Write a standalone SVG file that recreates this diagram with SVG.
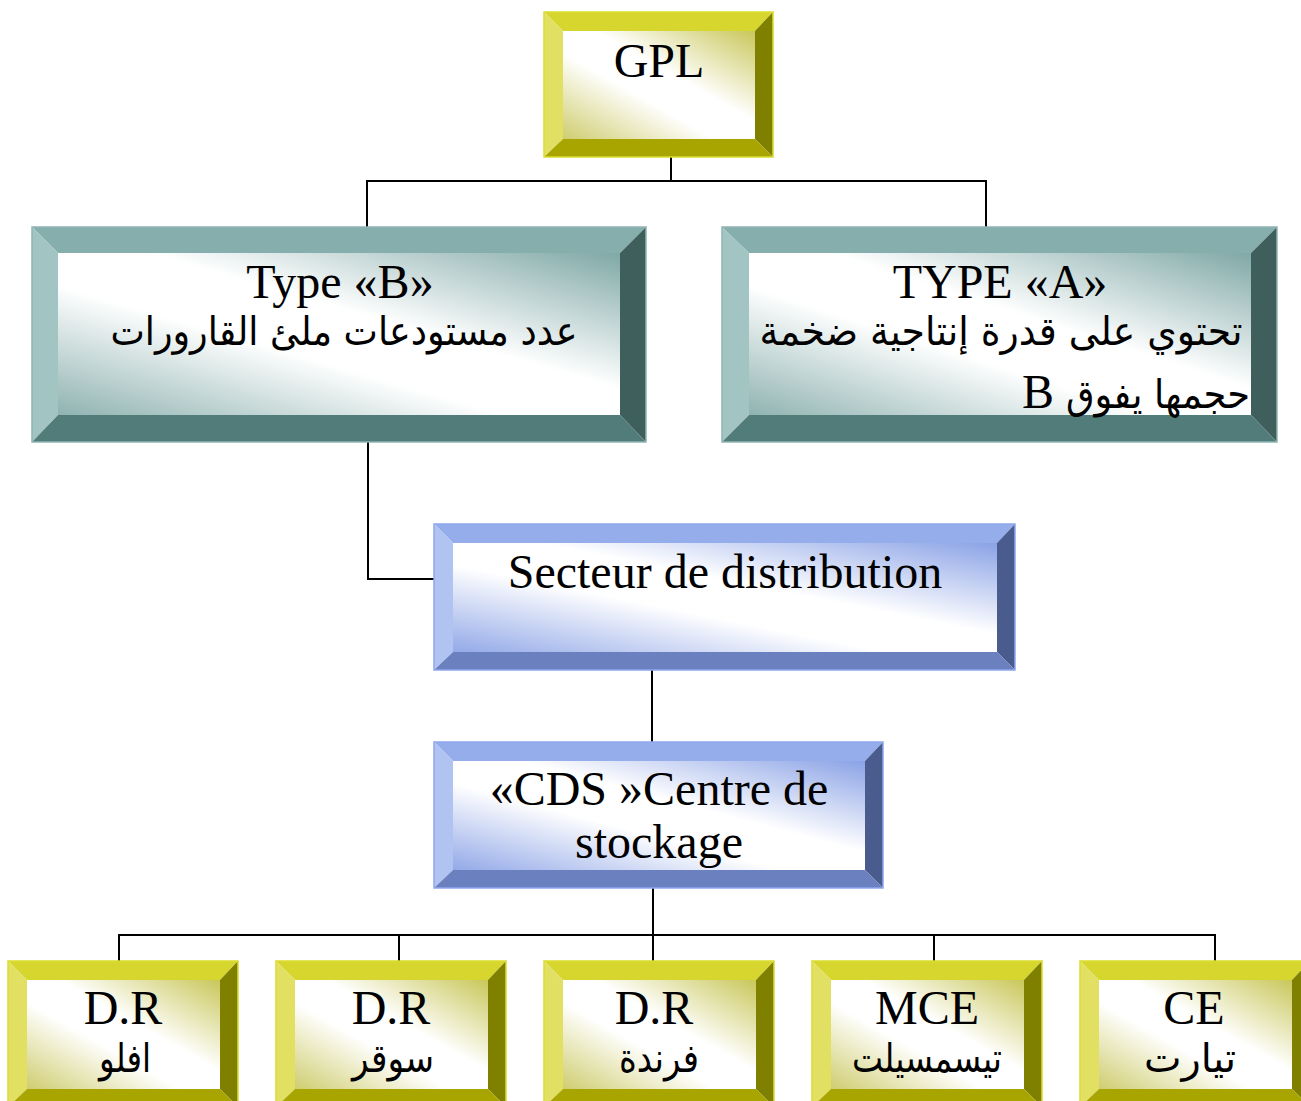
<svg xmlns="http://www.w3.org/2000/svg" width="1301" height="1101" viewBox="0 0 1301 1101">
<defs>
<linearGradient id="gy" x1="1" y1="0" x2="0" y2="1"><stop offset="0" stop-color="#c9c75a"/><stop offset="0.42" stop-color="#ffffff"/><stop offset="0.6" stop-color="#ffffff"/><stop offset="1" stop-color="#cfcd70"/></linearGradient>
<linearGradient id="gt" x1="1" y1="0" x2="0" y2="1"><stop offset="0" stop-color="#7fa8a6"/><stop offset="0.42" stop-color="#ffffff"/><stop offset="0.6" stop-color="#ffffff"/><stop offset="1" stop-color="#8fb3b1"/></linearGradient>
<linearGradient id="gb" x1="1" y1="0" x2="0" y2="1"><stop offset="0" stop-color="#8aa2e6"/><stop offset="0.42" stop-color="#ffffff"/><stop offset="0.6" stop-color="#ffffff"/><stop offset="1" stop-color="#93a9e8"/></linearGradient>
<style>
.yt{fill:#d7d62f}.yl{fill:#e1e062}.yr{fill:#7f7f00}.yb{fill:#a9a500}.yi{fill:url(#gy)}.yo{fill:none;stroke:#dcdc30;stroke-width:1.5}
.tt{fill:#86aead}.tl{fill:#a2c4c2}.tr{fill:#3f5f5d}.tb{fill:#527c7a}.ti{fill:url(#gt)}.to{fill:none;stroke:#8fb5b3;stroke-width:1.5}
.bt{fill:#95adea}.bl{fill:#b0c3f1}.br{fill:#4a5c8e}.bb{fill:#6a80bf}.bi{fill:url(#gb)}.bo{fill:none;stroke:#8ea7ee;stroke-width:1.5}
.lat{font-family:"Liberation Serif","Times New Roman",serif;font-size:48px;fill:#000;text-anchor:middle}
.ar{font-family:"DejaVu Sans","Noto Sans",sans-serif;font-size:40px;fill:#000;text-anchor:middle}
.cn{fill:none;stroke:#000;stroke-width:2}
</style>
</defs>
<rect width="1301" height="1101" fill="#fff"/>
<g id="connectors">
<polyline class="cn" points="671,157 671,181"/>
<polyline class="cn" points="367,227 367,181 986,181 986,227"/>
<polyline class="cn" points="368,442 368,579 434,579"/>
<polyline class="cn" points="652,670 652,742"/>
<polyline class="cn" points="653,888 653,961"/>
<polyline class="cn" points="119,961 119,935 1215,935 1215,961"/>
<polyline class="cn" points="399,935 399,961"/>
<polyline class="cn" points="934,935 934,961"/>
</g>
<g id="gpl">
<rect class="yi" x="563" y="31" width="192" height="108"/>
<polygon class="yt" points="544,12 773,12 755,31 563,31"/>
<polygon class="yl" points="544,12 563,31 563,139 544,157"/>
<polygon class="yr" points="773,12 773,157 755,139 755,31"/>
<polygon class="yb" points="544,157 563,139 755,139 773,157"/>
<rect class="yo" x="544" y="12" width="229" height="145"/>
<text class="lat" x="659" y="77">GPL</text>
</g>
<g id="typeB">
<rect class="ti" x="58" y="253" width="562" height="162"/>
<polygon class="tt" points="32,227 646,227 620,253 58,253"/>
<polygon class="tl" points="32,227 58,253 58,415 32,442"/>
<polygon class="tr" points="646,227 646,442 620,415 620,253"/>
<polygon class="tb" points="32,442 58,415 620,415 646,442"/>
<rect class="to" x="32" y="227" width="614" height="215"/>
<text class="lat" x="340" y="298">Type «B»</text>
<text class="ar" x="344" y="345" direction="rtl" textLength="467" lengthAdjust="spacingAndGlyphs">عدد مستودعات ملئ القارورات</text>
</g>
<g id="typeA">
<rect class="ti" x="749" y="253" width="502" height="162"/>
<polygon class="tt" points="722,227 1277,227 1251,253 749,253"/>
<polygon class="tl" points="722,227 749,253 749,415 722,442"/>
<polygon class="tr" points="1277,227 1277,442 1251,415 1251,253"/>
<polygon class="tb" points="722,442 749,415 1251,415 1277,442"/>
<rect class="to" x="722" y="227" width="555" height="215"/>
<text class="lat" x="1000" y="298">TYPE «A»</text>
<text class="ar" x="1001" y="345" direction="rtl" textLength="483" lengthAdjust="spacingAndGlyphs">تحتوي على قدرة إنتاجية ضخمة</text>
<text class="ar" x="1250" y="408" direction="rtl" style="text-anchor:start" textLength="184" lengthAdjust="spacingAndGlyphs">حجمها يفوق</text>
<text class="lat" x="1022" y="408" style="text-anchor:start">B</text>
</g>
<g id="secteur">
<rect class="bi" x="453" y="543" width="544" height="109"/>
<polygon class="bt" points="434,524 1015,524 997,543 453,543"/>
<polygon class="bl" points="434,524 453,543 453,652 434,670"/>
<polygon class="br" points="1015,524 1015,670 997,652 997,543"/>
<polygon class="bb" points="434,670 453,652 997,652 1015,670"/>
<rect class="bo" x="434" y="524" width="581" height="146"/>
<text class="lat" x="725" y="588">Secteur de distribution</text>
</g>
<g id="cds">
<rect class="bi" x="453" y="761" width="412" height="109"/>
<polygon class="bt" points="434,742 883,742 865,761 453,761"/>
<polygon class="bl" points="434,742 453,761 453,870 434,888"/>
<polygon class="br" points="883,742 883,888 865,870 865,761"/>
<polygon class="bb" points="434,888 453,870 865,870 883,888"/>
<rect class="bo" x="434" y="742" width="449" height="146"/>
<text class="lat" x="659" y="805">«CDS »Centre de</text>
<text class="lat" x="659" y="858">stockage</text>
</g>
<g id="dr1">
<rect class="yi" x="27" y="980" width="193" height="109"/>
<polygon class="yt" points="8,961 238,961 220,980 27,980"/>
<polygon class="yl" points="8,961 27,980 27,1089 8,1107"/>
<polygon class="yr" points="238,961 238,1107 220,1089 220,980"/>
<polygon class="yb" points="8,1107 27,1089 220,1089 238,1107"/>
<rect class="yo" x="8" y="961" width="230" height="146"/>
<text class="lat" x="123" y="1024">D.R</text>
<text class="ar" x="125" y="1072" direction="rtl" textLength="52" lengthAdjust="spacingAndGlyphs">افلو</text>
</g>
<g id="dr2">
<rect class="yi" x="295" y="980" width="193" height="109"/>
<polygon class="yt" points="276,961 506,961 488,980 295,980"/>
<polygon class="yl" points="276,961 295,980 295,1089 276,1107"/>
<polygon class="yr" points="506,961 506,1107 488,1089 488,980"/>
<polygon class="yb" points="276,1107 295,1089 488,1089 506,1107"/>
<rect class="yo" x="276" y="961" width="230" height="146"/>
<text class="lat" x="391" y="1024">D.R</text>
<text class="ar" x="393" y="1072" direction="rtl" textLength="82" lengthAdjust="spacingAndGlyphs">سوقر</text>
</g>
<g id="dr3">
<rect class="yi" x="563" y="980" width="193" height="109"/>
<polygon class="yt" points="544,961 774,961 756,980 563,980"/>
<polygon class="yl" points="544,961 563,980 563,1089 544,1107"/>
<polygon class="yr" points="774,961 774,1107 756,1089 756,980"/>
<polygon class="yb" points="544,1107 563,1089 756,1089 774,1107"/>
<rect class="yo" x="544" y="961" width="230" height="146"/>
<text class="lat" x="654" y="1024">D.R</text>
<text class="ar" x="659" y="1072" direction="rtl" textLength="80" lengthAdjust="spacingAndGlyphs">فرندة</text>
</g>
<g id="mce">
<rect class="yi" x="831" y="980" width="193" height="109"/>
<polygon class="yt" points="812,961 1042,961 1024,980 831,980"/>
<polygon class="yl" points="812,961 831,980 831,1089 812,1107"/>
<polygon class="yr" points="1042,961 1042,1107 1024,1089 1024,980"/>
<polygon class="yb" points="812,1107 831,1089 1024,1089 1042,1107"/>
<rect class="yo" x="812" y="961" width="230" height="146"/>
<text class="lat" x="927" y="1024">MCE</text>
<text class="ar" x="927" y="1072" direction="rtl" textLength="150" lengthAdjust="spacingAndGlyphs">تيسمسيلت</text>
</g>
<g id="ce">
<rect class="yi" x="1099" y="980" width="193" height="109"/>
<polygon class="yt" points="1080,961 1310,961 1292,980 1099,980"/>
<polygon class="yl" points="1080,961 1099,980 1099,1089 1080,1107"/>
<polygon class="yr" points="1310,961 1310,1107 1292,1089 1292,980"/>
<polygon class="yb" points="1080,1107 1099,1089 1292,1089 1310,1107"/>
<rect class="yo" x="1080" y="961" width="230" height="146"/>
<text class="lat" x="1194" y="1024">CE</text>
<text class="ar" x="1190" y="1072" direction="rtl" textLength="92" lengthAdjust="spacingAndGlyphs">تيارت</text>
</g>
</svg>
